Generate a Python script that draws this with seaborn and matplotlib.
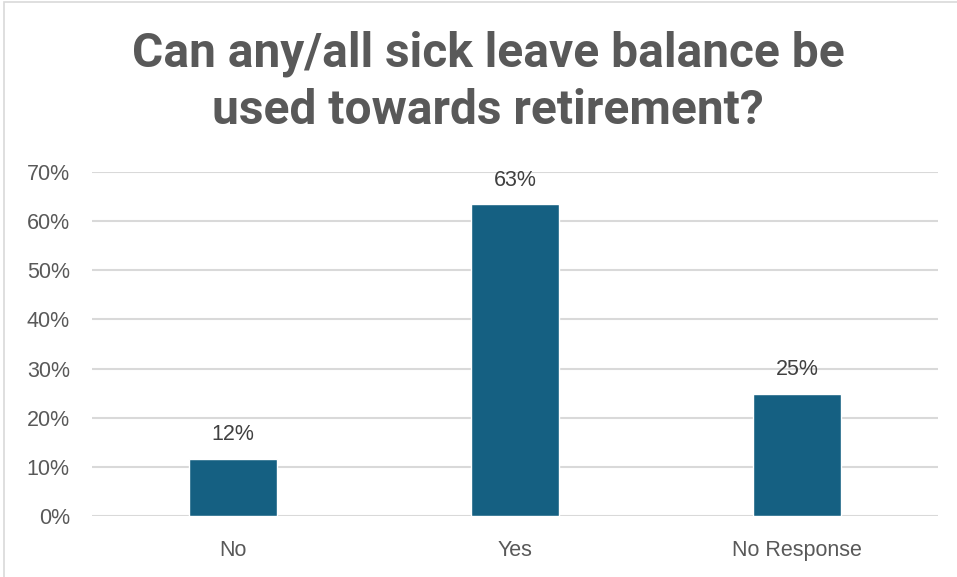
import matplotlib
matplotlib.use("Agg")
import matplotlib.pyplot as plt
import matplotlib.patches as mpatches
import seaborn as sns
import pandas as pd

categories = ["No", "Yes", "No Response"]
shares = [0.116, 0.634, 0.249]
y_ticks = [0.0, 0.1, 0.2, 0.3, 0.4, 0.5, 0.6, 0.7]
title_text = "Can any/all sick leave balance be\nused towards retirement?"

bar_color = "#156082"
text_gray = "#595959"
label_gray = "#404040"
grid_gray = "#d9d9d9"

sns.set_theme(style="white")
plt.rcParams["font.family"] = ["Liberation Sans", "DejaVu Sans"]

df = pd.DataFrame({"answer": categories, "share": shares})

fig = plt.figure(figsize=(9.57, 5.77), dpi=100)
ax = fig.add_axes([92 / 957, 1 - 516 / 577, (938 - 92) / 957, (516 - 172) / 577])

sns.barplot(data=df, x="answer", y="share", color=bar_color, width=0.31,
            saturation=1, ax=ax, zorder=3)

ax.set_xlim(-0.5, 2.5)
ax.set_ylim(0, 0.7)
ax.set_yticks(y_ticks)
ax.set_yticklabels([f"{t:.0%}" for t in y_ticks])
ax.yaxis.grid(True, color=grid_gray, linewidth=1.5, zorder=0)
ax.set_axisbelow(True)
for s in ax.spines.values():
    s.set_visible(False)
ax.tick_params(axis="y", length=0, pad=16, labelsize=15.5, labelcolor=text_gray)
ax.tick_params(axis="x", length=0, pad=17, labelsize=15.5, labelcolor=text_gray)
ax.set_xlabel("")
ax.set_ylabel("")

for i, v in enumerate(shares):
    ax.annotate(f"{v:.0%}", xy=(i, v), xytext=(0, 10), textcoords="offset points",
                ha="center", va="bottom", fontsize=15.5, color=label_gray)

fig.text(488 / 957, 1 - 82 / 577, title_text, ha="center", va="center",
         fontsize=34.5, fontweight="bold", color=text_gray, family=["Roboto", "DejaVu Sans"],
         linespacing=1.3)

# thin frame around the chart area
fig.patches.append(mpatches.Rectangle((4 / 957, -0.05), 1.1, 1 - 2 / 577 + 0.05,
                                      transform=fig.transFigure, fill=False,
                                      edgecolor="#d9d9d9", linewidth=1.2))

fig.savefig("out.png", dpi=100, facecolor="white")
